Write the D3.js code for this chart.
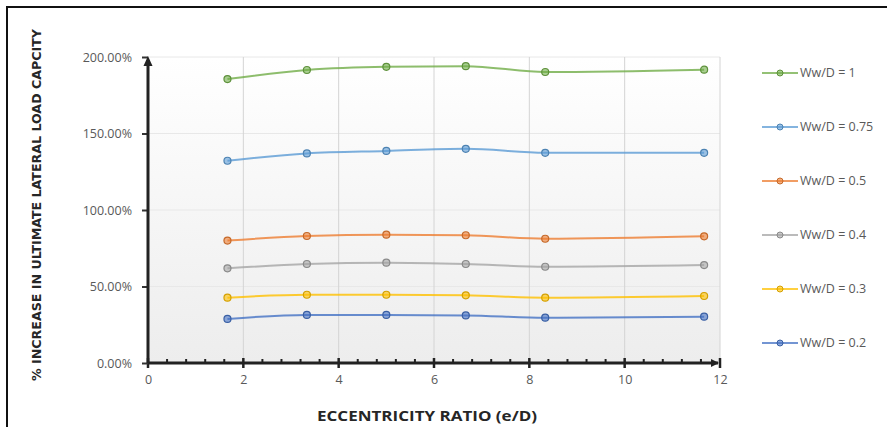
<!DOCTYPE html>
<html>
<head>
<meta charset="utf-8">
<script src="https://d3js.org/d3.v7.min.js"></script>
<style>
  body { margin: 0; background: #ffffff; overflow: hidden; }
  svg text { font-family: "Open Sans", "DejaVu Sans", sans-serif; }
</style>
</head>
<body>
<div id="chart"></div>
<script>
// eccentricity ratios (e/D) along the x axis
var eRatio = [1.667, 3.333, 5, 6.667, 8.333, 11.667];

// % increase in ultimate lateral load capacity per Ww/D
var ww1   = [185.6, 191.5, 193.6, 194.0, 190.2, 191.7];
var ww075 = [132.2, 137.0, 138.6, 140.0, 137.4, 137.4];
var ww05  = [80.0, 83.0, 83.9, 83.5, 81.2, 82.8];
var ww04  = [61.9, 64.7, 65.6, 64.7, 62.9, 64.0];
var ww03  = [42.7, 44.6, 44.6, 44.2, 42.7, 43.8];
var ww02  = [28.8, 31.4, 31.4, 31.1, 29.6, 30.3];

var seriesNames = ["Ww/D = 1", "Ww/D = 0.75", "Ww/D = 0.5", "Ww/D = 0.4", "Ww/D = 0.3", "Ww/D = 0.2"];
var seriesColors = ["#70ad47", "#5b9bd5", "#ed7d31", "#a5a5a5", "#ffc000", "#4472c4"];

var xTicks = [0, 2, 4, 6, 8, 10, 12];
var yTicks = [0, 50, 100, 150, 200];

var series = [ww1, ww075, ww05, ww04, ww03, ww02].map(function (vals, i) {
  return { name: seriesNames[i], color: seriesColors[i],
           pts: vals.map(function (v, j) { return { x: eRatio[j], y: v }; }) };
});

var W = 887, H = 427;
var margin = {top: 57, right: 167, bottom: 64, left: 148};
var width = W - margin.left - margin.right,
    height = H - margin.top - margin.bottom;

var svg = d3.select("#chart").append("svg")
  .attr("width", W).attr("height", H).style("display", "block");

// outer frame (right and bottom edges fall outside the picture)
svg.append("path")
  .attr("d", "M7," + (H + 5) + "L7,7L" + (W + 5) + ",7")
  .attr("fill", "none").attr("stroke", "#111").attr("stroke-width", 2);

var defs = svg.append("defs");
var grad = defs.append("linearGradient").attr("id", "bg")
  .attr("x1", 0).attr("y1", 0).attr("x2", 0).attr("y2", 1);
grad.append("stop").attr("offset", "0%").attr("stop-color", "#ffffff");
grad.append("stop").attr("offset", "100%").attr("stop-color", "#ededed");

var g = svg.append("g")
  .attr("transform", "translate(" + margin.left + "," + margin.top + ")");

var x = d3.scaleLinear().domain([0, 12]).range([0, width]);
var y = d3.scaleLinear().domain([0, 200]).range([height, 0]);

g.append("rect").attr("width", width).attr("height", height).attr("fill", "url(#bg)");

// gridlines
g.append("g").selectAll("line").data(yTicks.slice(1)).enter().append("line")
  .attr("x1", 0).attr("x2", width)
  .attr("y1", function (d) { return y(d); }).attr("y2", function (d) { return y(d); })
  .attr("stroke", "#e8e8e8").attr("stroke-width", 1);
g.append("g").selectAll("line").data(xTicks.slice(1)).enter().append("line")
  .attr("x1", function (d) { return x(d); }).attr("x2", function (d) { return x(d); })
  .attr("y1", 0).attr("y2", height)
  .attr("stroke", "#d4d4d4").attr("stroke-width", 1);

// x axis with minor ticks
var xAxis = g.append("g").attr("transform", "translate(0," + height + ")");
xAxis.call(d3.axisBottom(x).tickValues(xTicks).tickSize(0).tickPadding(12));
xAxis.select(".domain").remove();
xAxis.selectAll("text").attr("fill", "#595959").style("font-size", "12.5px");
var minor = d3.range(0, 12.01, 0.4).filter(function (d) { return Math.abs(d / 2 - Math.round(d / 2)) > 0.01; });
xAxis.selectAll(".minor").data(minor).enter().append("line")
  .attr("x1", function (d) { return x(d); }).attr("x2", function (d) { return x(d); })
  .attr("y1", -4).attr("y2", 0).attr("stroke", "#222").attr("stroke-width", 2);
xAxis.selectAll(".major").data(xTicks).enter().append("line")
  .attr("x1", function (d) { return x(d); }).attr("x2", function (d) { return x(d); })
  .attr("y1", -5).attr("y2", 5).attr("stroke", "#222").attr("stroke-width", 2.5);
xAxis.append("line").attr("x1", 0).attr("x2", width - 2).attr("y1", 0).attr("y2", 0)
  .attr("stroke", "#222").attr("stroke-width", 3);
xAxis.append("path")
  .attr("d", "M" + (width - 9) + ",-4L" + (width - 1) + ",0L" + (width - 9) + ",4Z")
  .attr("fill", "#222");

// y axis
var yAxis = g.append("g");
yAxis.call(d3.axisLeft(y).tickValues(yTicks).tickSize(6).tickPadding(10)
  .tickFormat(function (d) { return d3.format(".2f")(d) + "%"; }));
yAxis.select(".domain").remove();
yAxis.selectAll(".tick line").attr("stroke", "#333").attr("stroke-width", 2);
yAxis.selectAll("text").attr("fill", "#595959").style("font-size", "12.5px");
yAxis.append("line").attr("x1", 0).attr("x2", 0).attr("y1", height).attr("y2", 3)
  .attr("stroke", "#222").attr("stroke-width", 3);
yAxis.append("path")
  .attr("d", "M-4.5,9L0,-1L4.5,9Z").attr("fill", "#222");

// lines and markers
var line = d3.line().curve(d3.curveMonotoneX)
  .x(function (d) { return x(d.x); }).y(function (d) { return y(d.y); });

series.forEach(function (s) {
  g.append("path").datum(s.pts).attr("d", line)
    .attr("fill", "none").attr("stroke", s.color).attr("stroke-width", 2).attr("opacity", 0.8);
  g.append("g").selectAll("circle").data(s.pts).enter().append("circle")
    .attr("cx", function (d) { return x(d.x); }).attr("cy", function (d) { return y(d.y); })
    .attr("r", 3.5).attr("fill", s.color).attr("fill-opacity", 0.6)
    .attr("stroke", d3.color(s.color).darker(0.5)).attr("stroke-width", 1.2);
});

// legend
var legend = svg.append("g").attr("transform", "translate(762,73)");
series.forEach(function (s, i) {
  var row = legend.append("g").attr("transform", "translate(0," + (i * 54) + ")");
  row.append("line").attr("x1", 0).attr("x2", 36).attr("stroke", s.color).attr("stroke-width", 1.6);
  row.append("circle").attr("cx", 18).attr("r", 3).attr("fill", s.color).attr("fill-opacity", 0.6)
    .attr("stroke", d3.color(s.color).darker(0.5)).attr("stroke-width", 1);
  row.append("text").attr("x", 38).attr("dy", "0.35em")
    .attr("fill", "#595959").style("font-size", "12.5px").text(s.name);
});

// axis titles
svg.append("text")
  .attr("transform", "translate(41,205) rotate(-90)")
  .attr("text-anchor", "middle")
  .style("font-family", "'Liberation Sans Narrow', 'DejaVu Sans Condensed', sans-serif")
  .style("font-weight", "bold").style("font-size", "13px")
  .attr("fill", "#262626")
  .attr("textLength", 352).attr("lengthAdjust", "spacingAndGlyphs")
  .text("% INCREASE IN ULTIMATE LATERAL LOAD CAPCITY");

svg.append("text")
  .attr("x", 427).attr("y", 421)
  .attr("text-anchor", "middle")
  .style("font-weight", "bold").style("font-size", "14px")
  .attr("fill", "#262626")
  .attr("textLength", 220).attr("lengthAdjust", "spacingAndGlyphs")
  .text("ECCENTRICITY RATIO (e/D)");
</script>
</body>
</html>
